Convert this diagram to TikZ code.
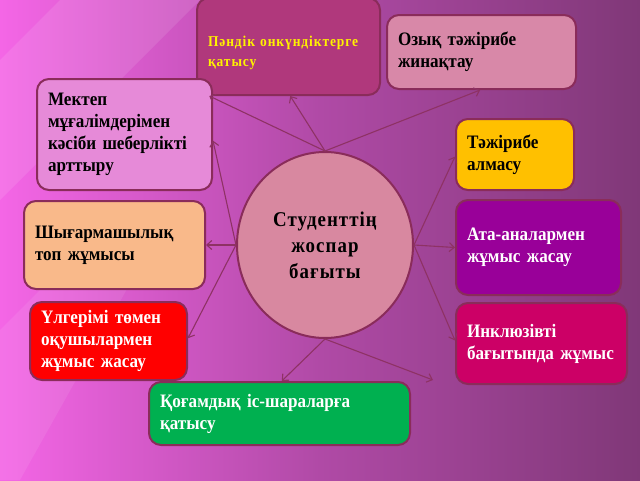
\documentclass[tikz,border=0pt]{standalone}
\usepackage{fontspec}
\setmainfont{Liberation Serif}
\newfontfamily\boxfont[FakeStretch=0.9]{Liberation Serif}
\newfontfamily\hubfont[FakeStretch=0.9,LetterSpace=5]{Liberation Serif}
\newfontfamily\tagfont[FakeStretch=0.9,LetterSpace=6]{Liberation Serif}
\newcommand\boxsp{\spaceskip=4pt plus 1pt\relax}
\newcommand\tagsp{\spaceskip=5pt plus 1pt\relax}
\usepackage{tikz}
\usetikzlibrary{arrows.meta,positioning,calc,shapes}

\definecolor{bgA}{HTML}{F466E6}
\definecolor{bgB}{HTML}{B04AA6}
\definecolor{bgC}{HTML}{803878}
\definecolor{edge}{HTML}{8A2C5A}
\definecolor{wire}{HTML}{8E3264}
\definecolor{fOne}{HTML}{B0387C}
\definecolor{fTwo}{HTML}{D888A8}
\definecolor{fThree}{HTML}{E68AD8}
\definecolor{fFour}{HTML}{FFC000}
\definecolor{fHub}{HTML}{D888A0}
\definecolor{fSix}{HTML}{F9B98A}
\definecolor{fSeven}{HTML}{990099}
\definecolor{fEight}{HTML}{FF0000}
\definecolor{fNine}{HTML}{CC0066}
\definecolor{fTen}{HTML}{00B050}

\begin{document}
\begin{tikzpicture}[x=1pt,y=-1pt]
      \tikzstyle{bx}=[draw=edge,line width=2pt,rounded corners=12pt,inner xsep=11pt,
        align=left,font=\boxfont\bfseries\fontsize{19}{22}\selectfont\boxsp]
      \tikzstyle{hub}=[ellipse,draw=edge,line width=2pt,fill=fHub,inner sep=0pt,
        minimum width=176pt,minimum height=186pt,align=center,
        font=\hubfont\bfseries\fontsize{21}{26}\selectfont]
      \tikzstyle{link}=[draw=wire,line width=1.1pt,-{Straight Barb[length=5pt,width=9pt]}]
      % background
      \useasboundingbox (0,0) rectangle (640,480);
      \shade[left color=bgA,right color=bgC,middle color=bgB] (0,0) rectangle (640,480);
      \fill[white,opacity=0.10] (0,60) -- (60,0) -- (200,0) -- (0,200) -- cycle;
      \fill[white,opacity=0.08] (0,330) -- (120,210) -- (160,230) -- (20,480) -- (0,480) -- cycle;
      % boxes
      \node[bx,fill=fOne,text=yellow,minimum width=183pt,minimum height=97pt,text width=161pt,text height=24pt,
        font=\tagfont\bfseries\fontsize{15}{20}\selectfont\tagsp]
        (par) at (288.5,46.5) {Пәндік онкүндіктерге\\қатысу};
      \node[bx,fill=fTwo,minimum width=187pt,minimum height=74pt,text width=167pt]
        (ozyk) at (481.5,52) {Озық тәжірибе\\жинақтау};
      \node[bx,fill=fThree,minimum width=175pt,minimum height=111pt,text width=153pt]
        (mektep) at (124.5,134.5) {Мектеп\\мұғалімдерімен\\кәсіби шеберлікті\\арттыру};
      \node[bx,fill=fFour,minimum width=118pt,minimum height=71pt,text width=96pt]
        (almasu) at (515,154.5) {Тәжірибе\\алмасу};
      \node[bx,fill=fSix,minimum width=179pt,minimum height=88pt,text width=159pt]
        (topjum) at (114.5,245) {Шығармашылық\\топ жұмысы};
      \node[bx,fill=fSeven,text=white,minimum width=165pt,minimum height=95pt,text width=143pt]
        (ata) at (538.5,247.5) {Ата-аналармен\\жұмыс жасау};
      \node[bx,fill=fEight,text=white,minimum width=155pt,minimum height=78pt,text width=135pt]
        (ulgerim) at (108.5,341) {Үлгерімі төмен\\оқушылармен\\жұмыс жасау};
      \node[bx,fill=fNine,text=white,minimum width=171pt,minimum height=81pt,text width=149pt]
        (inkl) at (541.5,343.5) {Инклюзівті\\бағытында жұмыс};
      \node[bx,fill=fTen,text=white,minimum width=259pt,minimum height=63pt,text width=239pt]
        (qogam) at (279.5,413.5) {Қоғамдық іс-шараларға\\қатысу};
      % centre
      \node[hub] (stud) at (325,245) {Студенттің\\жоспар\\бағыты};
      \coordinate (loose) at (433,380);
      % connectors
      \draw[link] (stud.north) -- (par.212);
      \draw[link] (stud.north) -- (par.272);
      \draw[link] (stud.north) -- (ozyk.268);
      \draw[link] (stud.west) -- (mektep.356);
      \draw[link] (stud.west) -- (topjum.east);
      \draw[link] (stud.west) -- (ulgerim.2);
      \draw[link] (stud.east) -- (almasu.182);
      \draw[link] (stud.east) -- (ata.west);
      \draw[link] (stud.east) -- (inkl.178);
      \draw[link] (stud.south) -- (qogam.86);
      \draw[link] (stud.south) -- (loose);
    \end{tikzpicture}
\end{document}
